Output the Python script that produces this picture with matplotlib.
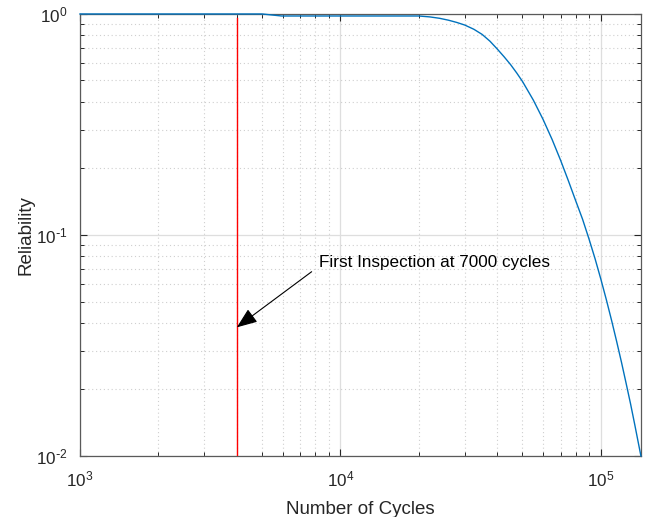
import numpy as np
import matplotlib
matplotlib.use("Agg")
import matplotlib.pyplot as plt
from matplotlib.ticker import LogLocator, NullFormatter, FuncFormatter

plt.rcParams['font.family'] = ['Liberation Sans', 'DejaVu Sans']
plt.rcParams['axes.unicode_minus'] = False

# reliability curve
cycles = [1000, 5000, 5950, 20000, 22000, 24000, 26000, 28000, 30000, 32500,
          35000, 37500, 40000, 42500, 45000, 47500, 50000, 55000, 60000, 65000,
          70000, 75000, 80000, 85000, 90000, 95000, 100000, 105000, 110000,
          115000, 120000, 125000, 130000, 135000, 142450]
reliability = [1.0, 1.0, 0.979, 0.979, 0.970, 0.956, 0.937, 0.915, 0.891, 0.853,
               0.808, 0.753, 0.694, 0.640, 0.590, 0.541, 0.495, 0.408, 0.333, 0.270,
               0.218, 0.176, 0.143, 0.118, 0.096, 0.078, 0.063, 0.0508, 0.0409,
               0.0329, 0.0265, 0.0213, 0.0172, 0.0138, 0.010]

# inspection marker
inspect_x = 4000
inspect_y = [0.01, 0.955]
note_text = "First Inspection at 7000 cycles"


def pow_label(v, pos):
    e = int(round(np.log10(v)))
    s = str(e).replace('-', r'\text{-}')
    return r'$\mathdefault{10^{%s}}$' % s


fig = plt.figure(figsize=(6.53, 5.17), dpi=100)
ax = fig.add_axes([0.1225, 0.118, 0.859, 0.855])

ax.plot(cycles, reliability, color='#0072BD', lw=1.0, clip_on=False, zorder=3)
ax.plot([inspect_x, inspect_x], inspect_y, color='#FF0000', lw=1.0, zorder=3)

ax.set_xscale('log')
ax.set_yscale('log')
ax.set_xlim(1000, cycles[-1])
ax.set_ylim(0.01, 1)

ax.xaxis.set_minor_locator(LogLocator(base=10, subs=np.arange(2, 10)))
ax.yaxis.set_minor_locator(LogLocator(base=10, subs=np.arange(2, 10)))
ax.xaxis.set_minor_formatter(NullFormatter())
ax.yaxis.set_minor_formatter(NullFormatter())
ax.xaxis.set_major_formatter(FuncFormatter(pow_label))
ax.yaxis.set_major_formatter(FuncFormatter(pow_label))

ax.grid(True, which='major', color='#dedede', lw=0.9, ls='-')
ax.grid(True, which='minor', color='#cfcfcf', lw=0.8, ls=(0, (1, 2.5)))
ax.set_axisbelow(True)

for s in ax.spines.values():
    s.set_color('#5a5a5a')
    s.set_linewidth(0.9)

ax.tick_params(which='both', direction='in', top=True, right=True,
               colors='#262626', labelsize=12.3)
ax.tick_params(which='major', length=5, width=0.8)
ax.tick_params(which='minor', length=3, width=0.7)
ax.tick_params(axis='x', which='major', pad=10)
ax.tick_params(axis='y', which='major', pad=9)

ax.set_xlabel('Number of Cycles', fontsize=13.5, color='#262626', labelpad=8)
ax.set_ylabel('Reliability', fontsize=13.5, color='#262626', labelpad=1)

# annotation arrow and text
ax.annotate('', xy=(inspect_x, 0.0382), xytext=(7752, 0.0682),
            arrowprops=dict(arrowstyle='-|>,head_length=0.9,head_width=0.35',
                            color='black', lw=0.8, shrinkA=0, shrinkB=0,
                            mutation_scale=14))
ax.text(8272, 0.0747, note_text, fontsize=12.3, color='black',
        ha='left', va='center')

fig.savefig('out.png', dpi=100)
